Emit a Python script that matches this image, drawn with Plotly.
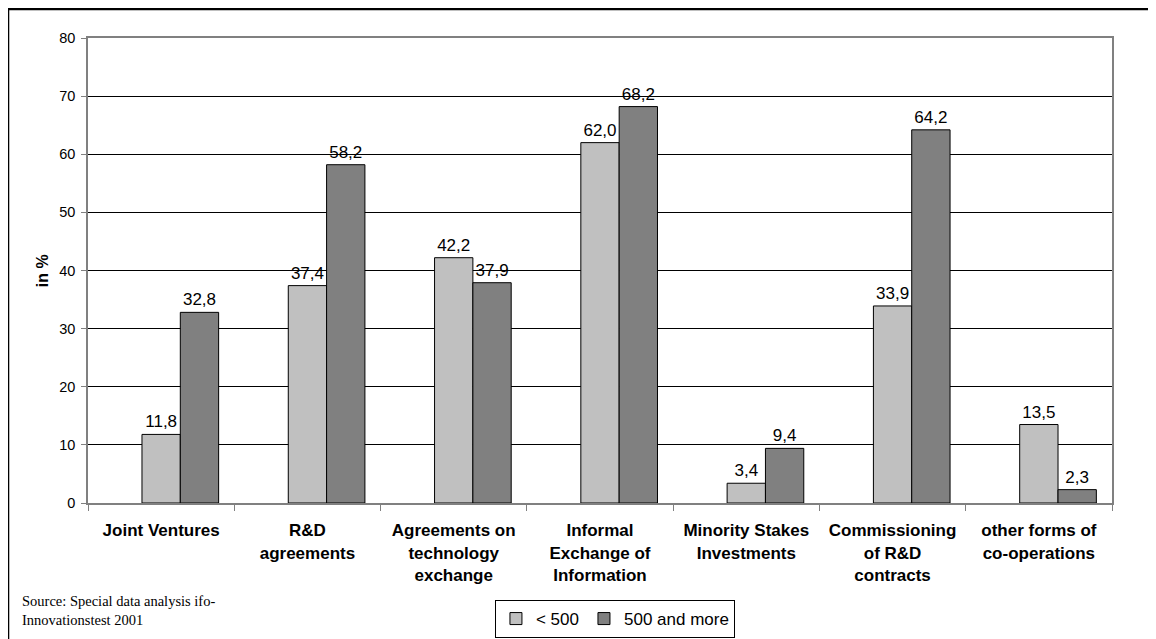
import plotly.graph_objects as go

categories = [
    "Joint Ventures",
    "R&D<br>agreements",
    "Agreements on<br>technology<br>exchange",
    "Informal<br>Exchange of<br>Information",
    "Minority Stakes<br>Investments",
    "Commissioning<br>of R&D<br>contracts",
    "other forms of<br>co-operations",
]
small_firms = [11.8, 37.4, 42.2, 62.0, 3.4, 33.9, 13.5]
large_firms = [32.8, 58.2, 37.9, 68.2, 9.4, 64.2, 2.3]
series_names = ["< 500", "500 and more"]
y_ticks = [0, 10, 20, 30, 40, 50, 60, 70, 80]


def fmt(v):
    return f"{v:.1f}".replace(".", ",")


FONT = "Arial, Liberation Sans, sans-serif"

fig = go.Figure()
# empty leading slot (the original chart reserves a blank series position)
fig.add_trace(go.Bar(x=categories, y=[0] * len(categories), showlegend=False,
                     marker=dict(color="rgba(0,0,0,0)", line=dict(width=0)),
                     hoverinfo="skip"))
fig.add_trace(go.Bar(x=categories, y=small_firms, name=series_names[0],
                     marker=dict(color="#C0C0C0", line=dict(color="#000000", width=1)),
                     text=[fmt(v) for v in small_firms], textposition="outside",
                     textfont=dict(family=FONT, size=17, color="#000000"),
                     cliponaxis=False))
fig.add_trace(go.Bar(x=categories, y=large_firms, name=series_names[1],
                     marker=dict(color="#808080", line=dict(color="#000000", width=1)),
                     text=[fmt(v) for v in large_firms], textposition="outside",
                     textfont=dict(family=FONT, size=17, color="#000000"),
                     cliponaxis=False))

fig.update_layout(
    width=1148, height=631,
    margin=dict(l=80, r=44, t=30, b=136, autoexpand=False),
    paper_bgcolor="white", plot_bgcolor="white",
    barmode="group", bargap=0.214, bargroupgap=0,
    font=dict(family=FONT, color="#000000"),
    showlegend=True,
    legend=dict(orientation="h", x=0.5146, y=-0.2495, xanchor="center", yanchor="middle",
                bordercolor="#000000", borderwidth=1, bgcolor="white",
                font=dict(family=FONT, size=17, color="#000000"),
                itemwidth=30, tracegroupgap=0),
    xaxis=dict(type="category", showgrid=False, showline=True, linecolor="#808080",
               linewidth=2, mirror=True, ticks="outside", tickson="boundaries",
               ticklen=6, tickcolor="#808080", tickwidth=1,
               tickfont=dict(family=FONT, size=17, color="#000000", weight="bold"),
               ticklabelstandoff=11),
    yaxis=dict(range=[0, 80], tickvals=y_ticks, showgrid=True, gridcolor="#000000",
               gridwidth=1, showline=True, linecolor="#808080", linewidth=1.5, mirror=True,
               ticks="outside", ticklen=5, tickcolor="#808080",
               tickfont=dict(family=FONT, size=14.5, color="#000000"),
               ticklabelstandoff=3, zeroline=False),
    annotations=[
        dict(text="in %", textangle=-90, x=-0.0442, y=0.5, xref="paper", yref="paper",
             xanchor="center", yanchor="middle", showarrow=False,
             font=dict(family=FONT, size=16, color="#000000", weight="bold")),
        dict(text="Source: Special data analysis ifo-<br>Innovationstest 2001",
             x=-0.0664, y=-0.2308, xref="paper", yref="paper", xanchor="left",
             yanchor="middle", align="left", showarrow=False,
             font=dict(family="Liberation Serif, Times New Roman, serif", size=14.5,
                       color="#000000")),
    ],
    shapes=[
        dict(type="rect", xref="paper", yref="paper", x0=-0.0781, x1=1.06,
             y0=-0.40, y1=1.0624, line=dict(color="#000000", width=2.5),
             fillcolor="rgba(0,0,0,0)", layer="above"),
    ],
)

fig.write_html("out.html")
